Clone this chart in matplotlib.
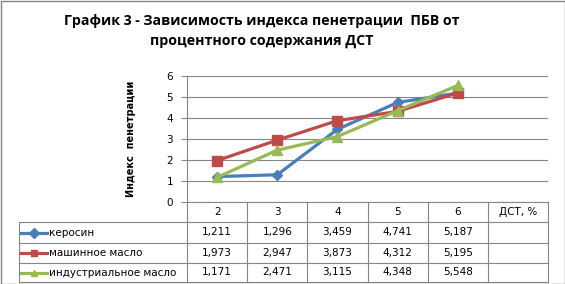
import matplotlib
matplotlib.use("Agg")
import matplotlib.pyplot as plt
from matplotlib.lines import Line2D
from matplotlib.patches import Rectangle

dst = ["2", "3", "4", "5", "6"]
kerosin = [1.211, 1.296, 3.459, 4.741, 5.187]
mash_maslo = [1.973, 2.947, 3.873, 4.312, 5.195]
ind_maslo = [1.171, 2.471, 3.115, 4.348, 5.548]
series_names = ["керосин", "машинное масло", "индустриальное масло"]
yticks = [0, 1, 2, 3, 4, 5, 6]
x_unit = "ДСТ, %"

W, H = 565, 284
colors = ["#4a7ebb", "#be4b48", "#98b954"]
markers = ["D", "s", "^"]
msizes = [5, 6.5, 7]


def fx(x):
    return x / W


def fy(y):
    return 1 - y / H


fig = plt.figure(figsize=(W / 100, H / 100), dpi=100)
fig.patch.set_facecolor("white")

# outer chart border
fig.add_artist(Rectangle((fx(0.5), fy(H - 0.5)), fx(W - 1), fy(0) - fy(H - 1),
                         transform=fig.transFigure, fill=False,
                         edgecolor="#868686", lw=1))

# title
fig.text(fx(262), fy(31), "График 3 - Зависимость индекса пенетрации  ПБВ от\nпроцентного содержания ДСТ",
         ha="center", va="center", fontsize=10.2, fontweight="bold",
         family="Open Sans", linespacing=1.55, color="black")

# plot area
left, right, top, bottom = 187, 548, 76, 202
ax = fig.add_axes([fx(left), fy(bottom), fx(right - left), fy(top) - fy(bottom)])
ax.set_xlim(-0.5, len(dst) + 0.5)
ax.set_ylim(0, 6)
ax.set_yticks(yticks)
ax.set_yticklabels([str(t) for t in yticks], fontsize=7.5)
ax.set_xticks([])
for s in ["top", "right", "bottom"]:
    ax.spines[s].set_visible(False)
ax.spines["left"].set_color("#868686")
ax.tick_params(axis="y", length=4, color="#868686", pad=6)
ax.yaxis.grid(True, color="#868686", lw=0.8)
ax.set_axisbelow(True)
ax.set_ylabel("Индекс  пенетрации", fontsize=7, fontweight="bold", labelpad=22)

xs = list(range(len(dst)))
all_series = [kerosin, mash_maslo, ind_maslo]
for vals, c, m, ms in zip(all_series, colors, markers, msizes):
    ax.plot(xs, vals, color=c, lw=2.3, marker=m, ms=ms, mfc=c, mec=c, zorder=3)

# data table below the plot
col_w = (right - left) / (len(dst) + 1)
row_y = [202, 222, 243, 263, 282]
tbl_left = 19
line_kw = dict(transform=fig.transFigure, color="#868686", lw=0.8)

fig.add_artist(Line2D([fx(left), fx(right)], [fy(row_y[0])] * 2, **line_kw))
for ry in row_y[1:]:
    fig.add_artist(Line2D([fx(tbl_left), fx(right)], [fy(ry)] * 2, **line_kw))
for i in range(len(dst) + 2):
    xx = left + i * col_w
    fig.add_artist(Line2D([fx(xx)] * 2, [fy(row_y[0]), fy(row_y[-1])], **line_kw))
fig.add_artist(Line2D([fx(tbl_left)] * 2, [fy(row_y[1]), fy(row_y[-1])], **line_kw))

headers = dst + [x_unit]
for i, h in enumerate(headers):
    fig.text(fx(left + (i + 0.5) * col_w), fy((row_y[0] + row_y[1]) / 2), h,
             ha="center", va="center", fontsize=7.5)

for r, (name, vals, c, m) in enumerate(zip(series_names, all_series, colors, markers)):
    yc = fy((row_y[r + 1] + row_y[r + 2]) / 2)
    fig.add_artist(Line2D([fx(21), fx(47)], [yc, yc], transform=fig.transFigure,
                          color=c, lw=2.3))
    fig.add_artist(Line2D([fx(34)], [yc], transform=fig.transFigure, color=c,
                          marker=m, ms=5, mfc=c, mec=c))
    fig.text(fx(49), yc, name, ha="left", va="center", fontsize=7.5)
    for i, v in enumerate(vals):
        fig.text(fx(left + (i + 0.5) * col_w), yc, f"{v:.3f}".replace(".", ","),
                 ha="center", va="center", fontsize=7.5)

fig.savefig("out.png", dpi=100, facecolor="white")
